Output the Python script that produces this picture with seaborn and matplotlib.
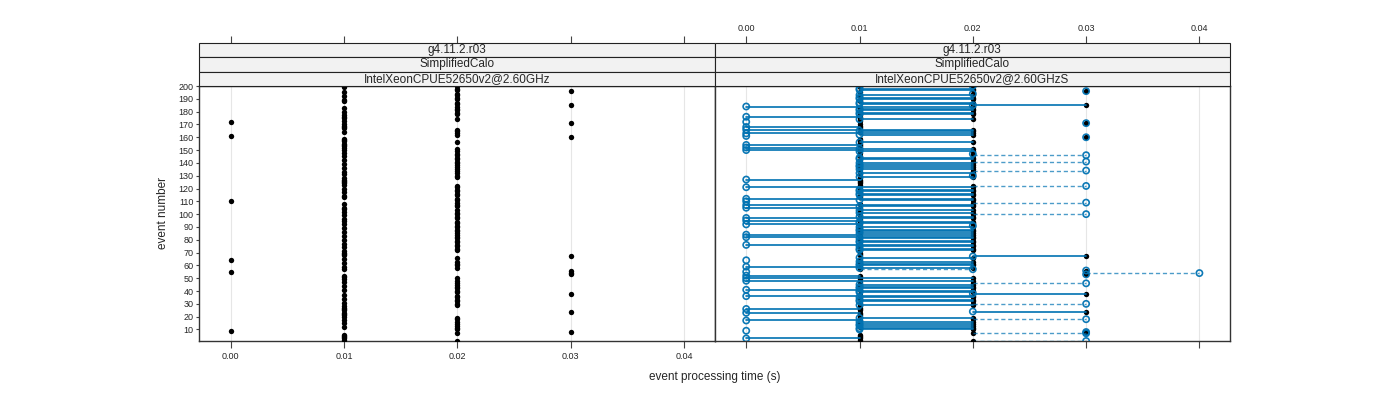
import numpy as np
import pandas as pd
import matplotlib
matplotlib.use("Agg")
import matplotlib.pyplot as plt
import seaborn as sns
from matplotlib.patches import Rectangle

# --- data ---
n_events = 200
time_ticks = [0.00, 0.01, 0.02, 0.03, 0.04]
tick_labels = ["0.00", "0.01", "0.02", "0.03", "0.04"]
event_ticks = list(range(10, 201, 10))

# reference build (left panel): events per time bin, all others at 0.01 s
ref_t000 = [9, 55, 64, 110, 161, 172]
ref_t002 = [1, 7, 10, 11, 13, 14, 16, 18, 19, 29, 30, 32, 33, 35, 36, 39, 40,
            42, 43, 45, 46, 48, 50, 58, 60, 61, 63, 66, 72, 73, 75, 76, 78, 79,
            81, 82, 84, 85, 87, 88, 90, 91, 93, 94, 97, 98, 100, 101, 103, 106,
            107, 109, 111, 112, 115, 116, 118, 119, 121, 122, 129, 130, 132,
            134, 135, 137, 138, 140, 141, 143, 144, 146, 147, 149, 151, 156,
            162, 163, 165, 166, 174, 178, 179, 181, 182, 184, 186, 187, 190,
            191, 193, 194, 197, 198, 200]
ref_t003 = [8, 24, 38, 53, 54, 56, 67, 160, 171, 185, 196]

# "S" build (right panel): events per time bin, all others at 0.01 s
s_t000 = [3, 9, 17, 23, 26, 36, 41, 48, 50, 52, 55, 59, 64, 76, 82, 84, 92, 95,
          97, 105, 107, 110, 112, 121, 127, 150, 152, 154, 161, 163, 166, 168,
          172, 176, 184]
s_t002 = [24, 38, 57, 67, 91, 130, 147, 185, 194, 200]
s_t003 = [1, 7, 8, 18, 30, 46, 53, 56, 100, 109, 122, 134, 141, 146, 160,
          171, 196]
s_t004 = [54]

strip_left = ["g4.11.2.r03", "SimplifiedCalo", "IntelXeonCPUE52650v2@2.60GHz"]
strip_right = ["g4.11.2.r03", "SimplifiedCalo", "IntelXeonCPUE52650v2@2.60GHzS"]

BLUE = "#0072B2"


def build_times(default, bins):
    times = np.full(n_events, default)
    for t, events in bins:
        times[np.array(events) - 1] = t
    return times


def draw_strip(fig, rect, labels, xlim, show_labels):
    ax = fig.add_axes(rect)
    ax.set_xlim(xlim)
    ax.set_ylim(0, 3)
    for i, lab in enumerate(labels):
        row = 2 - i
        ax.add_patch(Rectangle((0, row / 3), 1, 1 / 3, transform=ax.transAxes,
                               facecolor="#f2f2f2", edgecolor="#222222",
                               lw=0.8, clip_on=False))
        ax.text(0.5, (row + 0.5) / 3, lab, transform=ax.transAxes,
                ha="center", va="center", fontsize=8.5)
    for s in ax.spines.values():
        s.set_visible(False)
    ax.set_yticks([])
    ax.set_xticks(time_ticks)
    ax.set_xticklabels(tick_labels)
    ax.tick_params(axis="x", top=True, bottom=False, labeltop=show_labels,
                   labelbottom=False, direction="out", length=5,
                   color="#444444", labelsize=6.5, pad=2)
    return ax


def style_panel(ax, xlim):
    ax.set_xlim(xlim)
    ax.set_ylim(1, 200)
    ax.set_xticks(time_ticks)
    ax.set_xticklabels(tick_labels)
    ax.set_yticks(event_ticks)
    ax.grid(axis="x", color="#e6e6e6", lw=0.8)
    ax.grid(axis="y", visible=False)
    ax.set_axisbelow(True)
    ax.set_xlabel("")
    ax.set_ylabel("")
    for s in ax.spines.values():
        s.set_visible(True)
        s.set_color("#333333")
        s.set_linewidth(1.0)


def main():
    sns.set_style("white")
    plt.rcParams["font.family"] = ["Liberation Sans", "DejaVu Sans"]

    ref = build_times(0.01, [(0.00, ref_t000), (0.02, ref_t002), (0.03, ref_t003)])
    snew = build_times(0.01, [(0.00, s_t000), (0.02, s_t002), (0.03, s_t003),
                              (0.04, s_t004)])
    events = np.arange(1, n_events + 1)
    ref_df = pd.DataFrame({"event": events, "time": ref})
    s_df = pd.DataFrame({"event": events, "time": snew})

    # segments from reference time to new time
    diff = ref != snew
    kind = np.where(snew < ref, "faster", "slower")
    seg_df = pd.concat([
        pd.DataFrame({"event": events[diff], "time": ref[diff], "kind": kind[diff]}),
        pd.DataFrame({"event": events[diff], "time": snew[diff], "kind": kind[diff]}),
    ], ignore_index=True)

    # which marks show in the comparison panel
    ref_shown = ref_df[ref > 0]
    new_shown = s_df[diff | (snew != 0.01)]

    xlim = (-0.0028, 0.0427)
    fig = plt.figure(figsize=(14, 4), dpi=100)
    x0, w = 199 / 1400, 515.5 / 1400
    y0, h = 1 - 341 / 400, 255 / 400
    ax_l = fig.add_axes([x0, y0, w, h])
    ax_r = fig.add_axes([x0 + w, y0, w, h])

    # left panel: reference
    sns.scatterplot(data=ref_df, x="time", y="event", color="black", s=15,
                    linewidth=0, ax=ax_l, zorder=3)
    style_panel(ax_l, xlim)
    ax_l.tick_params(axis="x", bottom=True, labelbottom=True, direction="out",
                     length=5, color="#444444", labelsize=6.5, pad=3)
    ax_l.tick_params(axis="y", left=True, labelleft=True, direction="out",
                     length=2, color="#444444", labelsize=6.5, pad=2)

    # right panel: reference dots, change segments, new values
    sns.scatterplot(data=ref_shown, x="time", y="event", color="black", s=15,
                    linewidth=0, ax=ax_r, zorder=3)
    sns.lineplot(data=seg_df[seg_df["kind"] == "faster"], x="time", y="event",
                 units="event", estimator=None, color=BLUE, lw=1.2, alpha=1.0,
                 legend=False, ax=ax_r, zorder=4)
    sns.lineplot(data=seg_df[seg_df["kind"] == "slower"], x="time", y="event",
                 units="event", estimator=None, style="kind",
                 dashes={"slower": (3, 2)}, color=BLUE, lw=1.0, alpha=0.7,
                 legend=False, ax=ax_r, zorder=4)
    sns.scatterplot(data=new_shown, x="time", y="event", marker="o",
                    facecolor="none", edgecolor=BLUE, s=20, linewidth=1.2,
                    alpha=0.95, ax=ax_r, zorder=5)
    style_panel(ax_r, xlim)
    ax_r.tick_params(axis="x", bottom=True, labelbottom=False, direction="out",
                     length=5, color="#444444")
    ax_r.tick_params(axis="y", left=False, labelleft=False)

    # strips with top ticks
    sy = 1 - 86 / 400
    sh = 43 / 400
    draw_strip(fig, [x0, sy, w, sh], strip_left, xlim, False)
    draw_strip(fig, [x0 + w, sy, w, sh], strip_right, xlim, True)

    fig.text(x0 + w, 1 - 377 / 400, "event processing time (s)",
             ha="center", va="center", fontsize=8.5)
    fig.text(163 / 1400, 1 - 213 / 400, "event number", rotation=90,
             ha="center", va="center", fontsize=8.5)

    fig.savefig("out.png", dpi=100)
    plt.close(fig)


if __name__ == "__main__":
    main()
